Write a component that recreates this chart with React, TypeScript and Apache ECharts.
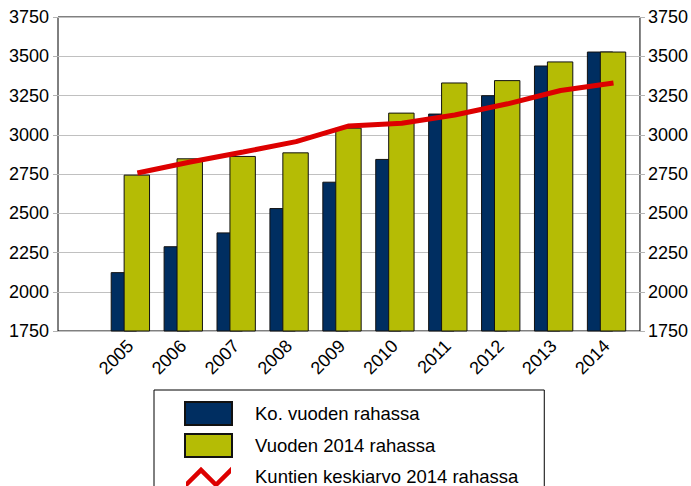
import React, { useEffect, useRef } from "react";
import * as echarts from "echarts";

const categories = ["", "2005", "2006", "2007", "2008", "2009", "2010", "2011", "2012", "2013", "2014"];
const currentMoney = [null, 2125, 2290, 2378, 2533, 2701, 2846, 3135, 3252, 3441, 3530];
const money2014 = [null, 2746, 2850, 2865, 2888, 3045, 3141, 3333, 3348, 3467, 3530];
const municipalAvg = [null, 2756, 2826, 2890, 2956, 3056, 3073, 3126, 3197, 3282, 3329];
const seriesNames = ["Ko. vuoden rahassa", "Vuoden 2014 rahassa", "Kuntien keskiarvo 2014 rahassa"];

const FONT = "'Liberation Sans', Arial, sans-serif";
const zigzag =
  "path://M0,0 L0.01,0 L0,0.01 Z M47,23 L46.99,23 L47,22.99 Z " +
  "M1,16.8 L16,1.8 L31,16.8 L46,1.8 L46,8.2 L31,23 L16,8.2 L1,23 Z";

export default function App() {
  const ref = useRef<HTMLDivElement>(null);
  useEffect(() => {
    document.body.style.margin = "0";
    const chart = echarts.init(ref.current!, null, { renderer: "svg" });
    const yBase = {
      type: "value" as const,
      min: 1750,
      max: 3750,
      interval: 250,
    };
    const plain = (v: number) => String(v);
    chart.setOption({
      animation: false,
      backgroundColor: "#fff",
      textStyle: { fontFamily: FONT },
      grid: [
        { left: 58, right: 51, top: 17, bottom: 155, show: true, borderColor: "#000", borderWidth: 1, backgroundColor: "transparent" },
        { left: 51, right: 58, top: 17, bottom: 155 },
      ],
      xAxis: [
        { type: "category", gridIndex: 0, data: categories, axisLine: { show: false }, axisTick: { show: false }, axisLabel: { show: false } },
        {
          type: "category",
          gridIndex: 1,
          data: categories,
          axisLine: { show: false },
          axisTick: { show: false },
          axisLabel: { rotate: 45, margin: 12, color: "#000", fontSize: 18, fontFamily: FONT },
        },
      ],
      yAxis: [
        {
          ...yBase,
          gridIndex: 0,
          position: "left",
          axisLine: { show: false },
          axisTick: { show: true, length: 5, lineStyle: { color: "#b3b3b3" } },
          axisLabel: { margin: 9, color: "#000", fontSize: 18, fontFamily: FONT, formatter: plain },
          splitLine: { show: true, lineStyle: { color: "#c0c0c0", width: 1 } },
        },
        {
          ...yBase,
          gridIndex: 0,
          position: "right",
          axisLine: { show: false },
          axisTick: { show: true, length: 5, lineStyle: { color: "#b3b3b3" } },
          axisLabel: { margin: 8, color: "#000", fontSize: 18, fontFamily: FONT, formatter: plain },
          splitLine: { show: false },
        },
        { ...yBase, gridIndex: 1, show: false, splitLine: { show: false } },
      ],
      legend: {
        type: "plain",
        orient: "vertical",
        left: 154,
        top: 390,
        height: 300,
        padding: [11, 26, 12, 30],
        itemGap: 7,
        itemWidth: 47,
        itemHeight: 23,
        borderColor: "#000",
        borderWidth: 1,
        textStyle: { fontSize: 18.5, color: "#000", fontFamily: FONT, padding: [0, 0, 0, 18] },
        data: [
          { name: seriesNames[0], icon: "rect" },
          { name: seriesNames[1], icon: "rect" },
          { name: seriesNames[2], icon: zigzag },
        ],
      },
      series: [
        {
          name: seriesNames[0],
          type: "bar",
          xAxisIndex: 1,
          yAxisIndex: 2,
          data: currentMoney,
          barWidth: 26.4,
          barGap: "-51%",
          itemStyle: { color: "#002e61", borderColor: "#111", borderWidth: 1 },
        },
        {
          name: seriesNames[1],
          type: "bar",
          xAxisIndex: 1,
          yAxisIndex: 2,
          data: money2014,
          barWidth: 26.4,
          itemStyle: { color: "#b5bc05", borderColor: "#111", borderWidth: 1 },
        },
        {
          name: seriesNames[2],
          type: "line",
          xAxisIndex: 0,
          yAxisIndex: 0,
          data: municipalAvg,
          showSymbol: false,
          symbol: "none",
          z: 5,
          itemStyle: { color: "#dd0000" },
          lineStyle: { color: "#dd0000", width: 5 },
        },
      ],
    });
    return () => chart.dispose();
  }, []);
  return <div ref={ref} style={{ width: 691, height: 486 }} />;
}
